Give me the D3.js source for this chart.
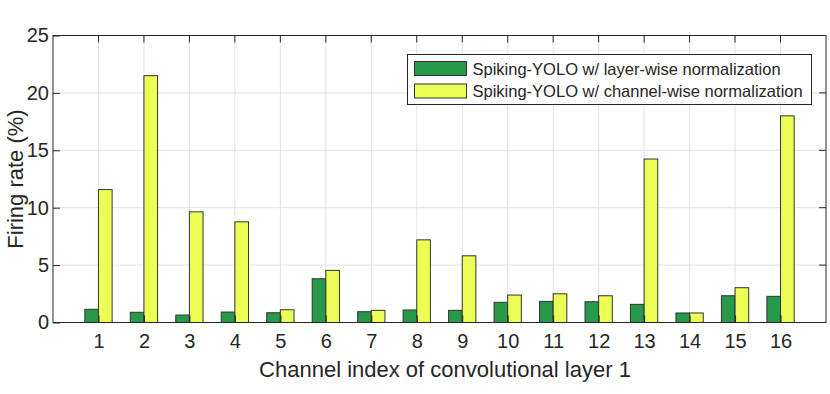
<!DOCTYPE html>
<html>
<head>
<meta charset="utf-8">
<script src="https://cdn.jsdelivr.net/npm/d3@7"></script>
<style>
  body { margin: 0; background: #fff; }
  svg { display: block; font-family: "Liberation Sans", Arial, Helvetica, sans-serif; }
</style>
</head>
<body>
<svg id="chart"></svg>
<script>
// channel index 1..16
const channels = d3.range(1, 17);
const layerWise = [1.15, 0.89, 0.65, 0.91, 0.85, 3.81, 0.94, 1.09, 1.06, 1.76, 1.84, 1.81, 1.58, 0.83, 2.33, 2.28];
const channelWise = [11.58, 21.5, 9.64, 8.77, 1.11, 4.54, 1.06, 7.2, 5.81, 2.39, 2.5, 2.33, 14.24, 0.83, 3.03, 18.0];
const yTicks = [0, 5, 10, 15, 20, 25];
const seriesNames = [
    "Spiking-YOLO w/ layer-wise normalization",
    "Spiking-YOLO w/ channel-wise normalization"
];
const colors = ["#27994a", "#ebff55"];

const W = 830, H = 394;
const margin = { top: 35.5, right: 4, bottom: 71.5, left: 53 };
const width = W - margin.left - margin.right;
const height = H - margin.top - margin.bottom;
const barW = 0.3;
const axisColor = "#262626";

const svg = d3.select("#chart").attr("width", W).attr("height", H);
const g = svg.append("g")
    .attr("transform", "translate(" + margin.left + "," + margin.top + ")");

const x = d3.scaleLinear().domain([0, 17]).range([0, width]);
const y = d3.scaleLinear().domain([0, 25]).range([height, 0]);

// grid
g.append("g").selectAll("line")
    .data(yTicks.slice(1, -1))
    .join("line")
    .attr("x1", 0).attr("x2", width)
    .attr("y1", d => y(d)).attr("y2", d => y(d))
    .attr("stroke", "#e3e3e3");
g.append("g").selectAll("line")
    .data(channels)
    .join("line")
    .attr("x1", d => x(d)).attr("x2", d => x(d))
    .attr("y1", 0).attr("y2", height)
    .attr("stroke", "#e3e3e3");

// ticks on top/right (box on, ticks inward)
const tickLen = 7;
g.append("g").selectAll("line")
    .data(channels)
    .join("line")
    .attr("x1", d => x(d)).attr("x2", d => x(d))
    .attr("y1", 0).attr("y2", tickLen)
    .attr("stroke", axisColor);
g.append("g").selectAll("line")
    .data(yTicks)
    .join("line")
    .attr("x1", width - tickLen).attr("x2", width)
    .attr("y1", d => y(d)).attr("y2", d => y(d))
    .attr("stroke", axisColor);

// bars
const bars = g.append("g");
bars.selectAll("rect.lw")
    .data(layerWise)
    .join("rect")
    .attr("x", (d, i) => x(channels[i] - barW))
    .attr("width", x(barW) - x(0))
    .attr("y", d => y(d))
    .attr("height", d => y(0) - y(d))
    .attr("fill", colors[0])
    .attr("stroke", "#333")
    .attr("stroke-width", 1);
bars.selectAll("rect.cw")
    .data(channelWise)
    .join("rect")
    .attr("x", (d, i) => x(channels[i]))
    .attr("width", x(barW) - x(0))
    .attr("y", d => y(d))
    .attr("height", d => y(0) - y(d))
    .attr("fill", colors[1])
    .attr("stroke", "#333")
    .attr("stroke-width", 1);

// axes
const xAxis = g.append("g")
    .attr("transform", "translate(0," + height + ")")
    .call(d3.axisBottom(x).tickValues(channels).tickSize(-tickLen).tickPadding(11));
const yAxis = g.append("g")
    .call(d3.axisLeft(y).tickValues(yTicks).tickSize(-tickLen).tickPadding(4));
[xAxis, yAxis].forEach(a => {
    a.select(".domain").remove();
    a.selectAll("line").attr("stroke", axisColor);
    a.selectAll("text").attr("fill", axisColor).attr("font-size", 20).attr("font-family", null);
});

// box
g.append("rect")
    .attr("x", 0).attr("y", 0)
    .attr("width", width).attr("height", height)
    .attr("fill", "none")
    .attr("stroke", axisColor)
    .attr("stroke-width", 1);

// axis titles
svg.append("text")
    .attr("x", 445)
    .attr("y", 377)
    .attr("text-anchor", "middle")
    .attr("font-size", 22)
    .attr("fill", axisColor)
    .text("Channel index of convolutional layer 1");
svg.append("text")
    .attr("transform", "translate(23," + (margin.top + height / 2) + ") rotate(-90)")
    .attr("text-anchor", "middle")
    .attr("font-size", 22)
    .attr("fill", axisColor)
    .text("Firing rate (%)");

// legend
const lg = svg.append("g").attr("transform", "translate(407.5,54.5)");
lg.append("rect")
    .attr("width", 404).attr("height", 50)
    .attr("fill", "#fff")
    .attr("stroke", axisColor);
seriesNames.forEach((name, i) => {
    lg.append("rect")
        .attr("x", 7).attr("y", 7 + i * 22.5)
        .attr("width", 52).attr("height", 14)
        .attr("fill", colors[i])
        .attr("stroke", "#333");
    lg.append("text")
        .attr("x", 65).attr("y", 20 + i * 22.4)
        .attr("font-size", 16.5)
        .attr("fill", axisColor)
        .text(name);
});
</script>
</body>
</html>
